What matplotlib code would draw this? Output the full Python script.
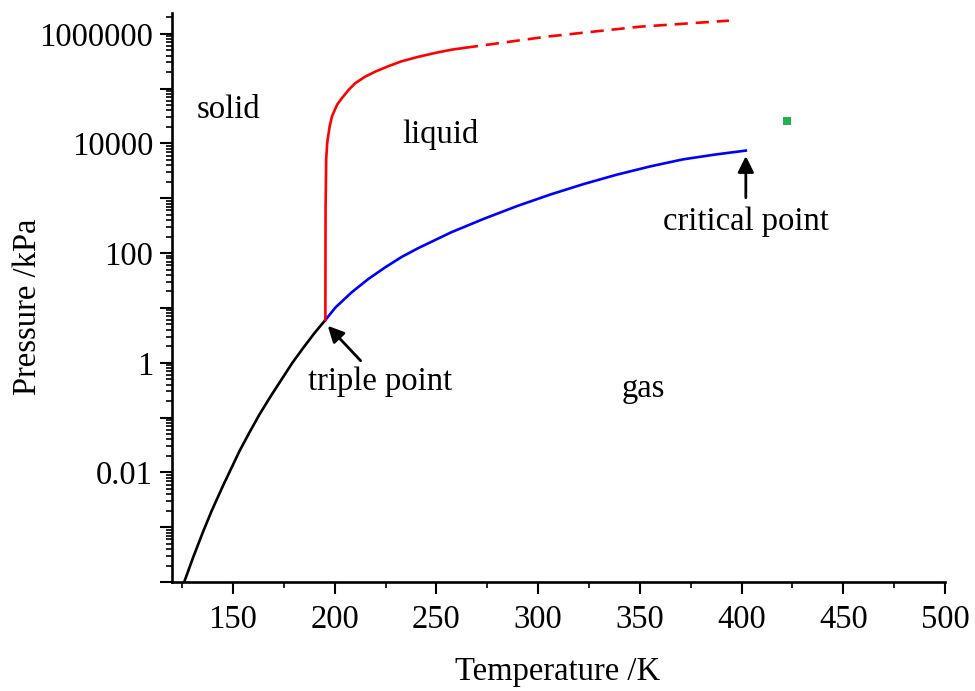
import numpy as np
import matplotlib
matplotlib.use("Agg")
import matplotlib.pyplot as plt
from matplotlib.ticker import FixedLocator, FuncFormatter, LogLocator, MultipleLocator

plt.rcParams["font.family"] = ["Liberation Serif", "DejaVu Serif"]

# ------------------------------------------------------------
# Data (T in K, log10 of P in kPa)
# ------------------------------------------------------------
subl_T = [126.0, 130.4, 135.3, 139.4, 145.0, 149.1, 153.2, 158.1, 162.9,
          168.7, 174.3, 179.2, 184.1, 189.8, 195.4]
subl_logP = [-4.0, -3.55, -3.08, -2.71, -2.25, -1.93, -1.61, -1.27, -0.95,
             -0.60, -0.28, 0.0, 0.25, 0.53, 0.78]

vap_T = [195.4, 200.4, 208.5, 216.6, 224.8, 232.9, 241.0, 257.3, 273.6, 289.8,
         306.1, 322.4, 338.6, 354.9, 371.2, 387.4, 402.1]
vap_logP = [0.78, 1.01, 1.29, 1.53, 1.74, 1.93, 2.09, 2.38, 2.63, 2.86,
            3.07, 3.26, 3.43, 3.58, 3.71, 3.80, 3.87]

melt_T = [195.4, 195.5, 195.8, 196.3, 197.5, 198.7, 201.2, 203.6, 206.9, 210.1,
          215.0, 219.9, 226.4, 232.9, 241.0, 249.2, 257.3, 264.0]
melt_logP = [0.78, 2.80, 3.71, 4.01, 4.31, 4.50, 4.71, 4.83, 4.98, 5.10,
             5.22, 5.31, 5.41, 5.50, 5.58, 5.65, 5.71, 5.745]

melt_ext_T = [264.0, 304.5, 349.9, 393.8]
melt_ext_logP = [5.745, 5.95, 6.13, 6.24]

extra_T = [422.1]
extra_logP = [4.41]

# labels: (text, T, P)
regions = [("solid", 147.8, 4.2e4), ("liquid", 251.8, 1.45e4), ("gas", 351.8, 0.34)]

# ------------------------------------------------------------
# Plot
# ------------------------------------------------------------
fig = plt.figure(figsize=(9.75, 6.91), dpi=100)
ax = fig.add_axes([0.1764, 0.1577, 0.7928, 0.8235])

LW = 1.9
ax.plot(subl_T, 10 ** np.array(subl_logP), color="black", lw=LW)
ax.plot(vap_T, 10 ** np.array(vap_logP), color="blue", lw=LW)
ax.plot(melt_T, 10 ** np.array(melt_logP), color="red", lw=LW)
ax.plot(melt_ext_T, 10 ** np.array(melt_ext_logP), color="red", lw=LW,
        dashes=(5, 3))
ax.plot(extra_T, 10 ** np.array(extra_logP), "s", color="#22b14c",
        markersize=5.5, markeredgewidth=0)

ax.set_yscale("log")
ax.set_xlim(120, 500)
ax.set_ylim(1e-4, 2.4e6)

FS = 23.5
for txt, t, p in regions:
    ax.text(t, p, txt, fontsize=FS, ha="center", va="center")

ax.annotate("critical point", xy=(402.1, 10 ** 3.77), xytext=(402.1, 10 ** 2.58),
            fontsize=FS, ha="center", va="center",
            arrowprops=dict(arrowstyle="-|>", color="black", lw=2,
                            mutation_scale=24, shrinkA=4, shrinkB=0))
ax.annotate("triple point", xy=(196.6, 10 ** 0.673), xytext=(222.5, 0.45),
            fontsize=FS, ha="center", va="center",
            arrowprops=dict(arrowstyle="-|>", color="black", lw=2,
                            mutation_scale=24, shrinkA=3, shrinkB=0))

# axes styling
for side in ["top", "right"]:
    ax.spines[side].set_visible(False)
for side in ["left", "bottom"]:
    ax.spines[side].set_linewidth(1.9)

ax.xaxis.set_major_locator(MultipleLocator(50))
ax.xaxis.set_minor_locator(MultipleLocator(25))
ax.yaxis.set_major_locator(FixedLocator([10.0 ** k for k in range(-4, 7)]))
ax.yaxis.set_minor_locator(LogLocator(base=10, subs=np.arange(2, 10), numticks=100))


def ylab(v, pos):
    k = int(round(np.log10(v)))
    if k % 2 or k < -2:
        return ""
    return "{:g}".format(v) if k < 0 else "{:d}".format(int(round(v)))


ax.yaxis.set_major_formatter(FuncFormatter(ylab))
ax.yaxis.set_minor_formatter(FuncFormatter(lambda v, p: ""))
ax.xaxis.set_major_formatter(FuncFormatter(lambda v, p: "" if v < 150 else "%d" % v))

ax.tick_params(which="major", length=8.5, width=1.5, labelsize=FS, pad=5)
ax.tick_params(axis="x", which="major", pad=8)
ax.tick_params(which="minor", length=4, width=1.2)

ax.set_xlabel("Temperature /K", fontsize=FS, va="center")
ax.set_ylabel("Pressure /kPa", fontsize=FS, va="center")
ax.xaxis.set_label_coords(0.499, -0.158)
ax.yaxis.set_label_coords(-0.186, 0.483)

fig.savefig("out.png", dpi=100)
